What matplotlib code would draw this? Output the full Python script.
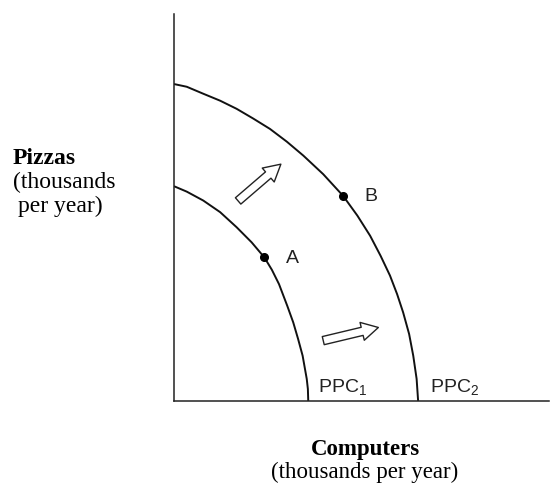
import matplotlib
matplotlib.use("Agg")
import matplotlib.pyplot as plt

plt.rcParams['font.family'] = ['Liberation Sans', 'DejaVu Sans']
plt.rcParams['mathtext.fontset'] = 'custom'
plt.rcParams['mathtext.rm'] = 'Liberation Sans'

# production possibilities curves (axis units 0-100)
ppc1_x = [0, 3.4, 7.8, 12.3, 16.7, 20.7, 24.1, 26.1, 28.0, 30.2, 31.8, 33.1, 34.3, 35.4, 35.7, 35.8]
ppc1_y = [55.5, 54.1, 51.8, 48.8, 44.9, 41.0, 37.1, 33.9, 30.2, 24.6, 20.3, 16.0, 11.7, 5.7, 3.1, 0]
ppc2_x = [0, 3.4, 7.8, 12.3, 16.7, 21.1, 25.6, 30.1, 34.5, 39.8, 45.1, 48.9, 52.3, 55.1, 57.6,
          59.5, 61.1, 62.7, 63.8, 64.7, 65.1]
ppc2_y = [81.9, 81.2, 79.4, 77.6, 75.5, 73.0, 70.3, 67.0, 63.4, 58.6, 53.0, 47.9, 42.7, 37.5, 32.4,
          27.6, 22.9, 17.3, 11.7, 5.7, 0]

# labelled points
pt_names = ['A', 'B']
pt_x = [24.1, 45.1]
pt_y = [37.1, 53.0]

# shift arrows (tail -> tip)
arrow_tails = [(17.1, 51.7), (39.8, 15.6)]
arrow_tips = [(28.5, 61.2), (54.5, 19.0)]

fig = plt.figure(figsize=(5.5, 4.85), dpi=100)
ax = fig.add_axes([174 / 550, 83 / 485, 375 / 550, 387 / 485])
ax.set_xlim(0, 100)
ax.set_ylim(0, 100)
ax.set_xticks([])
ax.set_yticks([])
for s in ['top', 'right']:
    ax.spines[s].set_visible(False)
for s in ['left', 'bottom']:
    ax.spines[s].set_linewidth(1.1)
    ax.spines[s].set_color('#222222')

ax.plot(ppc1_x, ppc1_y, color='#111111', lw=1.4, solid_capstyle='butt', solid_joinstyle='round')
ax.plot(ppc2_x, ppc2_y, color='#111111', lw=1.4, solid_capstyle='butt', solid_joinstyle='round')

ax.plot(pt_x, pt_y, 'o', color='black', ms=5.5)
for name, x, y in zip(pt_names, pt_x, pt_y):
    ax.annotate(name, (x, y), xytext=(20, 0), textcoords='offset points',
                ha='center', va='center', fontsize=14, color='#222222')

for tail, tip in zip(arrow_tails, arrow_tips):
    ax.annotate('', xy=tip, xytext=tail,
                arrowprops=dict(arrowstyle='simple,head_length=1.0,head_width=1.1,tail_width=0.5',
                                fc='white', ec='#222222', lw=1, shrinkA=0, shrinkB=0,
                                mutation_scale=12))

ax.text(38.4, 2.3, r'PPC$_{\mathregular{1}}$', fontsize=14, color='#222222', va='baseline')
ax.text(68.3, 2.3, r'PPC$_{\mathregular{2}}$', fontsize=14, color='#222222', va='baseline')

# axis titles
serif = ['Liberation Serif', 'DejaVu Serif']
fig.text(13 / 550, 1 - 164 / 485, 'Pizzas', family=serif, fontweight='bold', fontsize=17, va='baseline')
fig.text(13 / 550, 1 - 188 / 485, '(thousands', family=serif, fontsize=17, va='baseline')
fig.text(18 / 550, 1 - 212 / 485, 'per year)', family=serif, fontsize=17, va='baseline')
fig.text(365 / 550, 1 - 455 / 485, 'Computers', family=serif, fontweight='bold', fontsize=16.5,
         ha='center', va='baseline')
fig.text(365 / 550, 1 - 478 / 485, '(thousands per year)', family=serif, fontsize=16.5,
         ha='center', va='baseline')

fig.savefig('out.png', dpi=100)
